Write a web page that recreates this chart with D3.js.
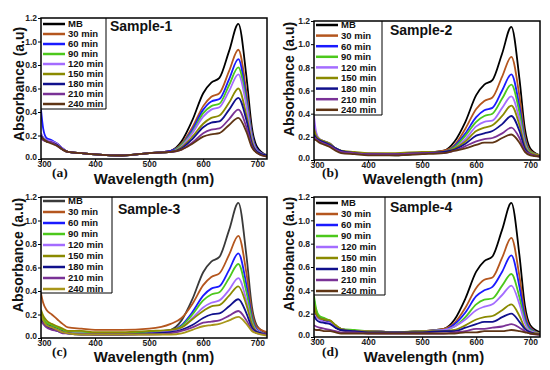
<!DOCTYPE html>
<html>
<head>
<meta charset="utf-8">
<script src="https://cdnjs.cloudflare.com/ajax/libs/d3/7.8.5/d3.min.js"></script>
<style>
  body { margin: 0; background: #fff; }
  text { font-family: "Liberation Sans", Arial, sans-serif; font-weight: bold; }
  .tag { font-family: "Liberation Serif", "Times New Roman", serif; }
</style>
<title>MB degradation spectra</title>
</head>
<body>
<script>

const wavelengths = [300, 304, 310, 320, 330, 340, 350, 375, 400, 450, 500,
  540, 560, 580, 600, 615, 630, 648, 665, 680, 690, 700, 718];

const legendLabels = ["MB", "30 min", "60 min", "90 min", "120 min", "150 min", "180 min", "210 min", "240 min"];
const sampleTitles = ["Sample-1", "Sample-2", "Sample-3", "Sample-4"];
const panelTags = ["(a)", "(b)", "(c)", "(d)"];
const xTicks = [300, 400, 500, 600, 700];
const yTicks = [0.0, 0.2, 0.4, 0.6, 0.8, 1.0, 1.2];

const sample1 = [
  [0.21,0.18,0.16,0.15,0.13,0.09,0.06,0.05,0.04,0.03,0.05, 0.07,0.15,0.33,0.56,0.65,0.69,0.92,1.15,0.70,0.27,0.10,0.03],
  [0.19,0.17,0.15,0.14,0.12,0.08,0.06,0.05,0.04,0.03,0.05, 0.07,0.13,0.27,0.45,0.53,0.56,0.75,0.93,0.57,0.22,0.08,0.03],
  [0.42,0.26,0.18,0.16,0.13,0.09,0.06,0.05,0.04,0.03,0.05, 0.07,0.12,0.25,0.42,0.49,0.51,0.68,0.85,0.52,0.21,0.08,0.03],
  [0.20,0.17,0.15,0.14,0.12,0.08,0.06,0.05,0.04,0.03,0.05, 0.06,0.12,0.23,0.39,0.45,0.47,0.63,0.78,0.48,0.19,0.07,0.03],
  [0.22,0.18,0.16,0.15,0.13,0.09,0.06,0.05,0.04,0.03,0.05, 0.06,0.11,0.22,0.36,0.42,0.44,0.58,0.72,0.45,0.18,0.07,0.03],
  [0.19,0.17,0.15,0.14,0.12,0.08,0.06,0.05,0.04,0.03,0.05, 0.06,0.10,0.19,0.30,0.35,0.37,0.48,0.60,0.37,0.15,0.06,0.03],
  [0.20,0.17,0.15,0.14,0.12,0.08,0.06,0.05,0.04,0.03,0.05, 0.06,0.09,0.17,0.27,0.31,0.32,0.42,0.52,0.33,0.13,0.06,0.03],
  [0.18,0.16,0.15,0.14,0.11,0.08,0.06,0.05,0.04,0.03,0.05, 0.06,0.08,0.14,0.22,0.25,0.26,0.34,0.42,0.27,0.11,0.05,0.02],
  [0.19,0.17,0.15,0.13,0.11,0.08,0.06,0.05,0.04,0.03,0.05, 0.06,0.08,0.13,0.19,0.21,0.22,0.29,0.35,0.23,0.10,0.05,0.02]
];

const sample2 = [
  [0.22,0.19,0.17,0.15,0.13,0.09,0.07,0.06,0.05,0.04,0.06, 0.08,0.16,0.33,0.56,0.65,0.69,0.92,1.15,0.70,0.27,0.10,0.04],
  [0.26,0.20,0.17,0.15,0.13,0.10,0.08,0.06,0.05,0.05,0.06, 0.08,0.13,0.27,0.44,0.51,0.54,0.72,0.89,0.55,0.21,0.08,0.04],
  [0.30,0.22,0.18,0.16,0.14,0.10,0.08,0.06,0.05,0.05,0.06, 0.07,0.12,0.23,0.37,0.43,0.45,0.60,0.74,0.46,0.18,0.07,0.04],
  [0.24,0.20,0.17,0.15,0.13,0.10,0.08,0.06,0.05,0.05,0.06, 0.07,0.11,0.21,0.33,0.38,0.40,0.53,0.65,0.41,0.16,0.07,0.04],
  [0.38,0.24,0.18,0.16,0.14,0.10,0.08,0.06,0.06,0.05,0.06, 0.07,0.10,0.18,0.29,0.33,0.34,0.45,0.55,0.35,0.14,0.06,0.04],
  [0.27,0.21,0.18,0.16,0.14,0.10,0.08,0.07,0.06,0.06,0.07, 0.07,0.10,0.16,0.25,0.28,0.30,0.38,0.47,0.30,0.12,0.06,0.04],
  [0.22,0.19,0.17,0.15,0.13,0.10,0.08,0.06,0.05,0.05,0.06, 0.07,0.09,0.14,0.21,0.23,0.25,0.31,0.38,0.25,0.10,0.05,0.03],
  [0.20,0.18,0.16,0.14,0.12,0.09,0.07,0.06,0.05,0.05,0.06, 0.06,0.08,0.12,0.16,0.18,0.19,0.23,0.28,0.19,0.08,0.05,0.03],
  [0.18,0.17,0.15,0.13,0.11,0.08,0.06,0.05,0.04,0.04,0.05, 0.06,0.08,0.10,0.13,0.15,0.15,0.19,0.22,0.15,0.07,0.04,0.03]
];

const sample3 = [
  [0.20,0.16,0.12,0.10,0.08,0.06,0.05,0.04,0.04,0.04,0.05, 0.07,0.15,0.33,0.56,0.65,0.69,0.92,1.15,0.70,0.27,0.10,0.04],
  [0.38,0.30,0.24,0.20,0.16,0.12,0.09,0.08,0.07,0.07,0.08, 0.12,0.17,0.29,0.45,0.52,0.55,0.71,0.87,0.55,0.22,0.09,0.05],
  [0.17,0.14,0.11,0.09,0.07,0.05,0.04,0.04,0.03,0.03,0.04, 0.06,0.11,0.22,0.36,0.42,0.44,0.58,0.72,0.45,0.18,0.07,0.03],
  [0.22,0.17,0.13,0.11,0.09,0.07,0.05,0.05,0.04,0.04,0.05, 0.06,0.10,0.20,0.32,0.37,0.39,0.51,0.63,0.39,0.16,0.06,0.03],
  [0.15,0.13,0.10,0.08,0.07,0.05,0.04,0.04,0.03,0.03,0.04, 0.06,0.09,0.17,0.26,0.30,0.32,0.41,0.51,0.32,0.13,0.06,0.03],
  [0.24,0.19,0.15,0.12,0.10,0.08,0.06,0.06,0.05,0.05,0.06, 0.07,0.09,0.16,0.23,0.27,0.28,0.36,0.44,0.28,0.12,0.05,0.03],
  [0.16,0.13,0.10,0.08,0.06,0.05,0.04,0.03,0.03,0.03,0.04, 0.05,0.07,0.11,0.17,0.20,0.21,0.27,0.33,0.21,0.09,0.05,0.03],
  [0.14,0.12,0.09,0.07,0.06,0.04,0.04,0.03,0.03,0.03,0.03, 0.04,0.06,0.09,0.13,0.14,0.15,0.19,0.23,0.15,0.07,0.04,0.03],
  [0.20,0.15,0.11,0.09,0.07,0.05,0.04,0.03,0.03,0.03,0.03, 0.03,0.04,0.07,0.10,0.11,0.12,0.15,0.18,0.12,0.06,0.04,0.02]
];

const sample4 = [
  [0.25,0.19,0.16,0.14,0.12,0.08,0.06,0.05,0.05,0.04,0.05, 0.07,0.15,0.33,0.56,0.65,0.69,0.92,1.15,0.70,0.27,0.10,0.04],
  [0.30,0.21,0.17,0.15,0.14,0.10,0.07,0.05,0.05,0.04,0.05, 0.07,0.12,0.25,0.42,0.49,0.51,0.68,0.85,0.52,0.21,0.08,0.03],
  [0.32,0.22,0.17,0.15,0.13,0.09,0.07,0.05,0.05,0.04,0.05, 0.06,0.11,0.21,0.35,0.40,0.43,0.56,0.70,0.43,0.17,0.07,0.03],
  [0.35,0.24,0.18,0.16,0.14,0.10,0.07,0.06,0.05,0.04,0.05, 0.06,0.09,0.17,0.28,0.32,0.33,0.44,0.54,0.34,0.14,0.06,0.03],
  [0.20,0.17,0.15,0.13,0.12,0.09,0.07,0.05,0.05,0.04,0.05, 0.06,0.09,0.15,0.23,0.26,0.28,0.36,0.44,0.28,0.12,0.05,0.03],
  [0.28,0.20,0.16,0.15,0.14,0.10,0.07,0.05,0.05,0.04,0.05, 0.05,0.06,0.10,0.15,0.17,0.18,0.23,0.28,0.18,0.08,0.04,0.03],
  [0.18,0.15,0.13,0.12,0.11,0.08,0.06,0.05,0.04,0.04,0.04, 0.05,0.05,0.08,0.11,0.13,0.13,0.17,0.20,0.13,0.07,0.04,0.02],
  [0.10,0.09,0.08,0.07,0.06,0.05,0.04,0.04,0.03,0.03,0.03, 0.03,0.04,0.05,0.07,0.07,0.08,0.09,0.11,0.08,0.05,0.03,0.02],
  [0.07,0.06,0.06,0.05,0.05,0.04,0.03,0.03,0.03,0.03,0.03, 0.03,0.03,0.04,0.04,0.05,0.05,0.05,0.06,0.05,0.04,0.03,0.02]
];

const samples = [sample1, sample2, sample3, sample4];

const colors = ["#000000", "#b4561e", "#1a1aff", "#4cc81c", "#a46cff", "#8a8a00", "#10108c", "#7a3296", "#5e3414"];
const colorsC = ["#3a3a3a", "#b4561e", "#1a1aff", "#4cc81c", "#a46cff", "#8a8a00", "#10108c", "#7a3296", "#a8961a"];

// where each panel sits on the page
const panels = [
  { l: 41, r: 267, t: 18, b: 159, legR: 106, legB: 109, legY: 24, legStep: 10, title: [110, 31], xt: [154, 184], tag: [52, 177], yt: [19, 84] },
  { l: 314, r: 540, t: 21, b: 160, legR: 382, legB: 115, legY: 25, legStep: 10.6, title: [390, 35], xt: [423, 184], tag: [322, 177], yt: [289, 79] },
  { l: 41, r: 267, t: 197, b: 338, legR: 112, legB: 293, legY: 201, legStep: 11, title: [118, 214], xt: [154, 362], tag: [52, 356], yt: [18, 255] },
  { l: 314, r: 540, t: 197, b: 337, legR: 385, legB: 295, legY: 203, legStep: 11, title: [390, 212], xt: [424, 362], tag: [322, 356], yt: [289, 254] }
];

const svg = d3.select("body").append("svg")
  .attr("width", 550).attr("height", 370);

panels.forEach((p, i) => {
  const x = d3.scaleLinear().domain([300, 718]).range([p.l, p.r]);
  const y = d3.scaleLinear().domain([0, 1.2]).range([p.b, p.t]);
  const cols = i === 2 ? colorsC : colors;
  const g = svg.append("g");

  g.append("clipPath").attr("id", "clip" + i)
    .append("rect").attr("x", p.l).attr("y", p.t)
    .attr("width", p.r - p.l).attr("height", p.b - p.t);

  const line = d3.line()
    .x((d, k) => x(wavelengths[k]))
    .y(d => y(d))
    .curve(d3.curveMonotoneX);

  g.append("g").attr("clip-path", `url(#clip${i})`)
    .selectAll("path")
    .data(samples[i])
    .join("path")
    .attr("d", line)
    .attr("fill", "none")
    .attr("stroke", (d, k) => cols[k])
    .attr("stroke-width", 1.8);

  // axes
  const xa = g.append("g").attr("transform", `translate(0,${p.b})`)
    .call(d3.axisBottom(x).tickValues(xTicks).tickSize(3).tickPadding(0));
  const ya = g.append("g").attr("transform", `translate(${p.l},0)`)
    .call(d3.axisLeft(y).tickValues(yTicks).tickSize(3).tickPadding(1).tickFormat(d3.format(".1f")));
  [xa, ya].forEach(a => {
    a.select(".domain").remove();
    a.selectAll("text").attr("font-size", 8.5).attr("fill", "#222");
    a.selectAll("line").attr("stroke", "#000").attr("stroke-width", 1);
  });
  xa.selectAll("text").attr("dy", "0.6em");
  // corner labels sit a little apart, as in the original
  xa.selectAll("text").filter(d => d === 300).attr("dx", 3);
  ya.selectAll("text").filter(d => d === 0).attr("dy", "0.1em");

  g.append("rect")
    .attr("x", p.l).attr("y", p.t)
    .attr("width", p.r - p.l).attr("height", p.b - p.t)
    .attr("fill", "none").attr("stroke", "#000").attr("stroke-width", 1.5);

  // legend box
  g.append("path")
    .attr("d", `M${p.l},${p.legB}H${p.legR}V${p.t}`)
    .attr("fill", "none").attr("stroke", "#000").attr("stroke-width", 1);

  const leg = g.selectAll(".leg")
    .data(legendLabels)
    .join("g")
    .attr("transform", (d, k) => `translate(0,${p.legY + k * p.legStep})`);
  leg.append("line")
    .attr("x1", p.l + 2).attr("x2", p.l + 24)
    .attr("stroke", (d, k) => cols[k]).attr("stroke-width", 2.5);
  leg.append("text")
    .attr("x", p.l + 27).attr("dy", "0.35em")
    .attr("font-size", 9.5).attr("fill", "#111")
    .text(d => d);

  g.append("text").attr("x", p.title[0]).attr("y", p.title[1])
    .attr("font-size", 14).attr("fill", "#111").text(sampleTitles[i]);

  g.append("text").attr("x", p.xt[0]).attr("y", p.xt[1])
    .attr("text-anchor", "middle").attr("font-size", 15).attr("fill", "#111")
    .text("Wavelength (nm)");

  g.append("text").attr("class", "tag").attr("x", p.tag[0]).attr("y", p.tag[1])
    .attr("font-size", 13.5).attr("fill", "#111").text(panelTags[i]);

  g.append("text")
    .attr("transform", `translate(${p.yt[0]},${p.yt[1]}) rotate(-90)`)
    .attr("text-anchor", "middle").attr("dy", "0.35em")
    .attr("font-size", 14).attr("fill", "#111")
    .text("Absorbance (a.u)");
});

</script>
</body>
</html>
